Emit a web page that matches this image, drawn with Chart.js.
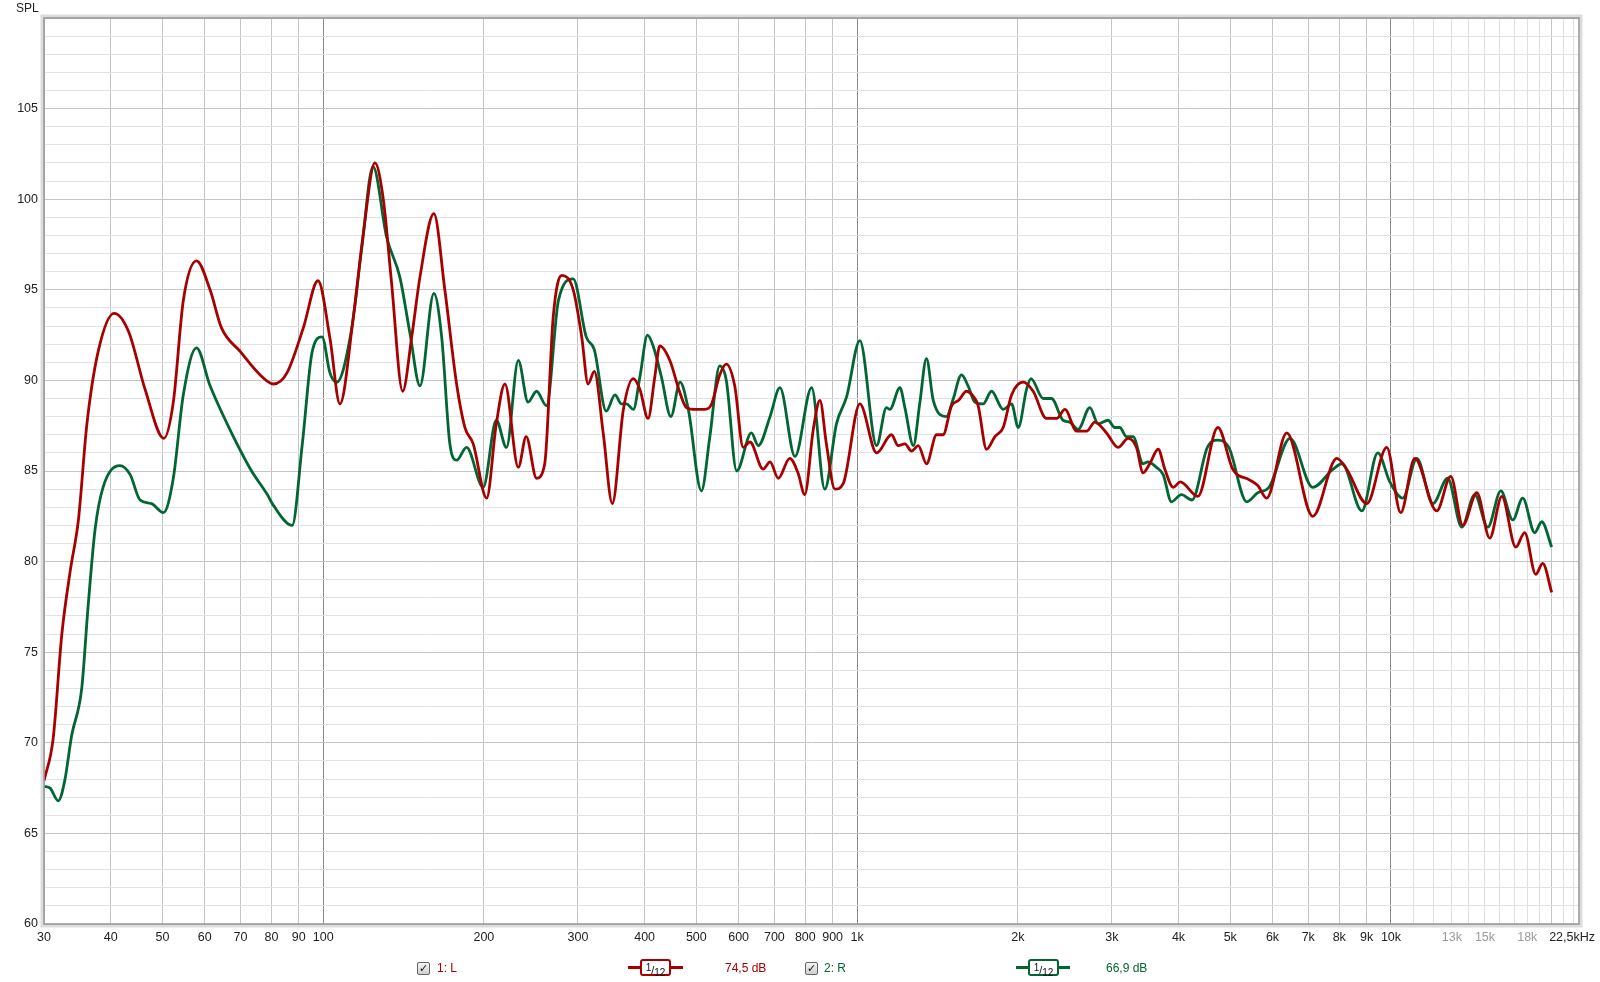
<!DOCTYPE html>
<html>
<head>
<meta charset="utf-8">
<script src="https://cdn.jsdelivr.net/npm/chart.js@4.4.1/dist/chart.umd.min.js"></script>
<style>
  html, body { margin: 0; padding: 0; background: #fff; }
  #wrap { position: relative; width: 1600px; height: 982px; background: #fff; font-family: "Liberation Sans", Arial, sans-serif; font-size: 12px; }
  #c { position: absolute; left: 0; top: 0; }
  .txt { position: absolute; line-height: 14px; white-space: nowrap; }
  .chk { position: absolute; width: 11px; height: 11px; border: 1px solid #666; border-radius: 2px;
         background: linear-gradient(#f4f4f4, #cfcfcf); font-size: 11px; line-height: 11px; text-align: center;
         font-family: "DejaVu Sans", sans-serif; color: #111; font-weight: bold; }
  .bar { position: absolute; height: 3px; }
  .box { position: absolute; width: 27px; height: 13px; border: 2px solid; border-radius: 3px; background: #fff;
         font-size: 11px; line-height: 13px; text-align: center; color: #111; }
  .box sup { font-size: 10px; vertical-align: 3px; }
  .box sub { font-size: 10px; vertical-align: -2px; }
</style>
</head>
<body>
<div id="wrap">
  <canvas id="c" width="1600" height="982"></canvas>
  <div class="txt" style="left:16px;top:1px;color:#222">SPL</div>

  <div class="chk" style="left:417px;top:962px">✓</div>
  <div class="txt" style="left:437px;top:961px;color:#a80000">1: L</div>
  <div class="bar" style="left:628px;top:966px;width:55px;background:#a80000"></div>
  <div class="box" style="left:640px;top:959px;border-color:#a80000"><sup>1</sup>/<sub>12</sub></div>
  <div class="txt" style="left:725px;top:961px;color:#a80000">74,5 dB</div>

  <div class="chk" style="left:805px;top:962px">✓</div>
  <div class="txt" style="left:824px;top:961px;color:#006633">2: R</div>
  <div class="bar" style="left:1016px;top:966px;width:54px;background:#006633"></div>
  <div class="box" style="left:1028px;top:959px;border-color:#006633"><sup>1</sup>/<sub>12</sub></div>
  <div class="txt" style="left:1106px;top:961px;color:#006633">66,9 dB</div>
</div>
<script>
// channel 1: L
const leftFreq = [30, 31.2, 32.4, 33.6, 34.8, 36.1, 37.9, 40.6, 43.2, 46.4, 50.3, 52.4, 54.7, 57.9, 61.4, 64.5, 69.9, 76.2, 80.7, 85.5, 91.8, 97.8,
  103, 107.5, 113.9, 118.9, 125, 129.6, 134.3, 140.9, 146.5, 151.8, 161.2, 169, 177.8, 184.3, 191, 202.4, 211, 219, 232, 240, 251, 260, 269.7, 279.7, 294,
  305, 313.5, 322, 334.6, 348, 365, 381, 392, 406, 418, 427, 446, 466, 479, 497, 519, 534, 553, 569, 590, 612, 630, 667, 687, 712, 748, 775, 798,
  828, 852, 876, 909, 942, 1012, 1088, 1160, 1194, 1229, 1265, 1302, 1349, 1409, 1449, 1503, 1550, 1603, 1662, 1686, 1748, 1812, 1878, 1947,
  2047, 2137, 2263, 2364, 2451, 2577, 2691, 2788, 2932, 3083, 3219, 3337, 3433, 3533, 3664, 3771, 3909, 4030, 4347, 4740, 5055, 5440, 5630, 5850,
  6380, 7137, 7918, 8263, 9010, 9820, 10430, 11080, 12180, 12940, 13630, 14480, 15310, 16130, 17130, 17800, 18670, 19240, 20000];
const leftSpl = [67.9, 70.2, 76.0, 79.5, 82.3, 87.6, 91.6, 93.7, 92.7, 89.5, 86.8, 88.8, 94.4, 96.6, 95.0, 92.9, 91.6, 90.3, 89.8, 90.4, 92.9, 95.5,
  92.3, 88.7, 93.5, 98.1, 102.0, 100.0, 95.4, 89.4, 92.4, 95.7, 99.2, 95.0, 89.8, 87.4, 86.5, 83.5, 87.6, 89.8, 85.2, 86.9, 84.6, 85.4, 93.5, 95.8, 95.0,
  92.4, 89.8, 90.5, 87.1, 83.2, 88.4, 90.1, 89.5, 87.9, 90.2, 91.9, 91.1, 89.3, 88.5, 88.4, 88.4, 88.7, 90.3, 90.9, 89.7, 86.3, 86.6, 85.1, 85.5, 84.6, 85.7, 84.9, 83.7,
  87.3, 88.9, 86.5, 84.0, 84.3, 88.7, 86.0, 87.0, 86.4, 86.5, 86.1, 86.4, 85.4, 87.0, 87.0, 88.6, 88.9, 89.4, 89.0, 88.6, 86.2, 86.9, 87.4, 89.2,
  89.9, 89.4, 87.9, 87.9, 88.4, 87.2, 87.2, 87.7, 87.1, 86.3, 86.8, 86.3, 84.9, 85.4, 86.2, 85.1, 84.1, 84.4, 83.6, 87.4, 85.1, 84.5, 84.2, 83.5,
  87.1, 82.5, 85.7, 85.1, 83.2, 86.3, 82.7, 85.7, 82.8, 84.7, 82.0, 83.8, 81.3, 83.6, 80.8, 81.6, 79.3, 79.9, 78.3];

// channel 2: R
const rightFreq = [30, 30.8, 31.9, 32.8, 33.8, 35.3, 36.3, 37.4, 38.7, 41.6, 43.5, 45.4, 47.7, 50.2, 52.4, 54.7, 57.9, 61.4, 66.1, 73.1, 78.6, 80.7,
  87.5, 91.4, 95.4, 99.5, 103, 106, 113, 118, 124, 131.5, 139.2, 145.4, 151.8, 161.2, 166.7, 172.7, 177.8, 185.6, 199.4, 211, 220.5, 232, 242, 251, 262,
  275.8, 294, 311, 322, 339, 352, 362, 370, 381, 392, 405, 415, 430, 448, 466, 483, 511, 530, 553, 569, 595, 634, 653, 687, 717, 765, 822, 870, 915, 956,
  1012, 1088, 1135, 1152, 1203, 1229, 1275, 1310, 1349, 1389, 1470, 1511, 1569, 1614, 1662, 1722, 1786, 1878, 1947, 2004, 2077, 2117, 2231, 2313,
  2431, 2503, 2595, 2729, 2829, 2952, 3039, 3105, 3196, 3288, 3433, 3507, 3637, 3744, 3880, 4050, 4240, 4530, 4740, 4970, 5370, 5630, 5910, 6470,
  7137, 7790, 8100, 8820, 9447, 9950, 10520, 11180, 11980, 12770, 13570, 14350, 15180, 16060, 16910, 17650, 18590, 19160, 20000];
const rightSpl = [67.6, 67.5, 66.8, 67.9, 70.4, 73.0, 77.6, 81.8, 84.1, 85.3, 84.8, 83.4, 83.2, 82.7, 84.6, 89.2, 91.8, 89.7, 87.6, 85.1, 83.7, 83.1,
  82.0, 86.5, 91.6, 92.4, 90.4, 89.9, 92.8, 97.2, 101.8, 97.9, 95.7, 92.6, 89.7, 94.8, 92.4, 86.5, 85.6, 86.3, 84.1, 87.8, 86.3, 91.1, 88.8, 89.4, 88.6,
  94.4, 95.6, 92.4, 91.7, 88.3, 89.2, 88.7, 88.7, 88.4, 90.2, 92.5, 91.9, 90.2, 88.0, 89.9, 88.4, 83.9, 86.9, 90.8, 90.0, 85.0, 87.1, 86.4, 88.0, 89.6, 85.8, 89.6, 84.0, 87.6, 89.1,
  92.2, 86.4, 88.5, 88.4, 89.6, 88.5, 86.4, 88.7, 91.2, 88.9, 88.0, 88.9, 90.3, 89.7, 88.8, 88.7, 89.4, 88.4, 88.7, 87.4, 89.5, 90.1, 89.0, 89.0,
  87.8, 87.7, 87.3, 88.5, 87.6, 87.8, 87.4, 87.4, 86.9, 86.9, 85.4, 85.5, 85.2, 84.8, 83.3, 83.7, 83.4, 86.3, 86.7, 86.3, 83.3, 83.8, 84.1, 86.8,
  84.1, 85.1, 85.4, 82.8, 86.0, 84.4, 83.5, 85.7, 83.2, 84.6, 81.9, 83.7, 81.9, 83.9, 82.3, 83.5, 81.6, 82.2, 80.8];

// frequency axis
const xTickValues = [30, 40, 50, 60, 70, 80, 90, 100, 200, 300, 400, 500, 600, 700, 800, 900,
  1000, 2000, 3000, 4000, 5000, 6000, 7000, 8000, 9000, 10000, 11000, 12000, 13000, 14000, 15000, 16000,
  17000, 18000, 19000, 20000, 21000, 22000, 22500];
const xTickLabels = ['30', '40', '50', '60', '70', '80', '90', '100', '200', '300', '400', '500', '600', '700', '800', '900',
  '1k', '2k', '3k', '4k', '5k', '6k', '7k', '8k', '9k', '10k', '', '', '13k', '', '15k', '',
  '', '18k', '', '', '', '', '22,5kHz    '];
const xGreyLabels = ['13k', '15k', '18k'];

// level axis
const yLabelValues = [60, 65, 70, 75, 80, 85, 90, 95, 100, 105];

const FONT = { family: '"Liberation Sans", Arial, sans-serif', size: 12.5 };

const frame = {
  id: 'frame',
  afterDraw(chart) {
    const { left, top, right, bottom } = chart.chartArea;
    const ctx = chart.ctx;
    ctx.save();
    ctx.strokeStyle = '#dcdcdc';
    ctx.lineWidth = 3;
    ctx.strokeRect(left - 2, top - 2, right - left + 4, bottom - top + 4);
    ctx.strokeStyle = '#999';
    ctx.lineWidth = 1.6;
    ctx.strokeRect(left, top, right - left, bottom - top);
    ctx.restore();
  }
};

function xGridColor(c) {
  if (!c.tick) return '#c4c4c4';
  const v = c.tick.value;
  if (v === 100 || v === 1000 || v === 10000) return '#8a8a8a';
  if (v === 22500) return 'rgba(0,0,0,0)';
  if (v > 10000 && v !== 20000) return '#e0e0e0';
  return '#c4c4c4';
}

new Chart(document.getElementById('c'), {
  type: 'line',
  data: {
    datasets: [{
      label: '1: L',
      data: leftFreq.map((f, i) => ({ x: f, y: leftSpl[i] })),
      borderColor: '#a80000',
      borderWidth: 2.8,
      pointRadius: 0,
      cubicInterpolationMode: 'monotone'
    }, {
      label: '2: R',
      data: rightFreq.map((f, i) => ({ x: f, y: rightSpl[i] })),
      borderColor: '#006633',
      borderWidth: 2.8,
      pointRadius: 0,
      cubicInterpolationMode: 'monotone'
    }]
  },
  options: {
    responsive: false,
    animation: false,
    devicePixelRatio: 1,
    layout: { padding: { left: 0, top: 18, right: 21, bottom: 0 } },
    plugins: {
      legend: { display: false },
      tooltip: { enabled: false }
    },
    scales: {
      x: {
        type: 'logarithmic',
        min: 30,
        max: 22500,
        afterBuildTicks: s => { s.ticks = xTickValues.map(v => ({ value: v })); },
        afterFit: s => { s.height = 58; s.paddingLeft = 0; s.paddingRight = 0; },
        grid: { color: xGridColor, lineWidth: 1, drawTicks: false },
        border: { display: false },
        ticks: {
          autoSkip: false,
          maxRotation: 0,
          minRotation: 0,
          padding: 6,
          font: FONT,
          color: c => (xGreyLabels.includes(xTickLabels[c.index]) ? '#9a9a9a' : '#222'),
          callback: (v, i) => xTickLabels[i]
        }
      },
      y: {
        type: 'linear',
        min: 60,
        max: 110,
        afterBuildTicks: s => {
          const t = [];
          for (let v = 60; v <= 110; v++) t.push({ value: v });
          s.ticks = t;
        },
        afterFit: s => { s.width = 44; s.paddingTop = 0; s.paddingBottom = 0; },
        grid: {
          color: c => (c.tick && c.tick.value % 5 === 0 ? '#c4c4c4' : '#e2e2e2'),
          lineWidth: 1,
          drawTicks: false
        },
        border: { display: false },
        ticks: {
          autoSkip: false,
          padding: 6,
          font: FONT,
          color: '#222',
          callback: v => (yLabelValues.includes(v) ? String(v) : '')
        }
      }
    }
  },
  plugins: [frame]
});
</script>
</body>
</html>
